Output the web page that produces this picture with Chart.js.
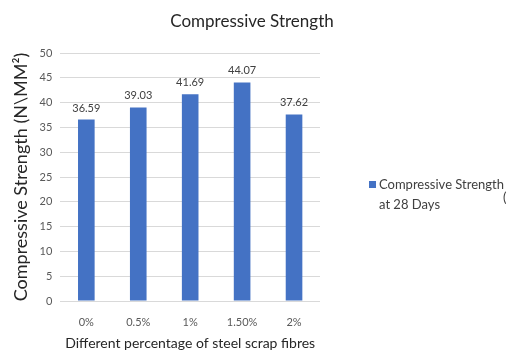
<!DOCTYPE html>
<html>
<head>
<meta charset="utf-8">
<script src="https://cdn.jsdelivr.net/npm/chart.js@4.4.1/dist/chart.umd.min.js"></script>
<style>
  html, body { margin: 0; padding: 0; background: #fff; }
  #wrap { width: 508px; height: 354px; position: relative; }
</style>
</head>
<body>
<div id="wrap"><canvas id="c" width="508" height="354"></canvas></div>
<script>
// Fibre dosage categories and 28-day strength values
const categories = ['0%', '0.5%', '1%', '1.50%', '2%'];
const strength28 = [36.59, 39.03, 41.69, 44.07, 37.62];
const seriesLabel = ['Compressive Strength', 'at 28 Days'];
const chartTitle = 'Compressive Strength';
const yTitle = 'Compressive Strength (N\\MM\u00B2)';
const xTitle = 'Different percentage of steel scrap fibres';

const FONT = 'Lato, "Open Sans", sans-serif';
const BAR = '#4472C4';

// Title, value labels and the side legend
const decorations = {
  id: 'decorations',
  afterDatasetsDraw(chart) {
    const ctx = chart.ctx;
    ctx.save();
    // value labels above each bar
    const meta = chart.getDatasetMeta(0);
    ctx.font = '11px ' + FONT;
    ctx.fillStyle = '#404040';
    ctx.textAlign = 'center';
    ctx.textBaseline = 'bottom';
    meta.data.forEach((bar, i) => {
      ctx.fillText(chart.data.datasets[0].data[i].toFixed(2), bar.x, bar.y - 6);
    });
    // chart title
    ctx.font = '17px ' + FONT;
    ctx.fillStyle = '#262626';
    ctx.textBaseline = 'middle';
    ctx.fillText(chartTitle, 252, 22);
    // legend
    const ds = chart.data.datasets[0];
    ctx.fillStyle = ds.backgroundColor;
    ctx.fillRect(369, 181, 7, 7);
    ctx.fillStyle = '#404040';
    ctx.font = '13px ' + FONT;
    ctx.textAlign = 'left';
    ctx.textBaseline = 'middle';
    ds.label.forEach((line, i) => ctx.fillText(line, 379, 185 + i * 20));
    ctx.fillText('(', 503, 198);
    ctx.restore();
  }
};

new Chart(document.getElementById('c'), {
  type: 'bar',
  data: {
    labels: categories,
    datasets: [{
      label: seriesLabel,
      data: strength28,
      backgroundColor: BAR,
      borderWidth: 0,
      categoryPercentage: 1,
      barPercentage: 0.32
    }]
  },
  options: {
    responsive: false,
    animation: false,
    layout: { padding: { left: 10, right: 188, top: 53, bottom: 0 } },
    plugins: {
      legend: { display: false },
      title: { display: false },
      tooltip: { enabled: false }
    },
    scales: {
      x: {
        grid: { display: false, drawTicks: false },
        border: { display: false },
        ticks: { color: '#595959', font: { family: FONT, size: 11 }, padding: 15 },
        title: { display: true, text: xTitle, color: '#262626', font: { family: FONT, size: 14 }, padding: { top: 4, bottom: 2 } },
        afterFit(scale) { scale.height = 53; }
      },
      y: {
        min: 0,
        max: 50,
        grid: { color: '#d9d9d9', drawTicks: false },
        border: { display: false },
        ticks: { stepSize: 5, color: '#595959', font: { family: FONT, size: 11 }, padding: 8 },
        title: { display: true, text: yTitle, color: '#262626', font: { family: FONT, size: 18 }, padding: { top: 0, bottom: 0 } }
      }
    }
  },
  plugins: [decorations]
});
</script>
</body>
</html>
